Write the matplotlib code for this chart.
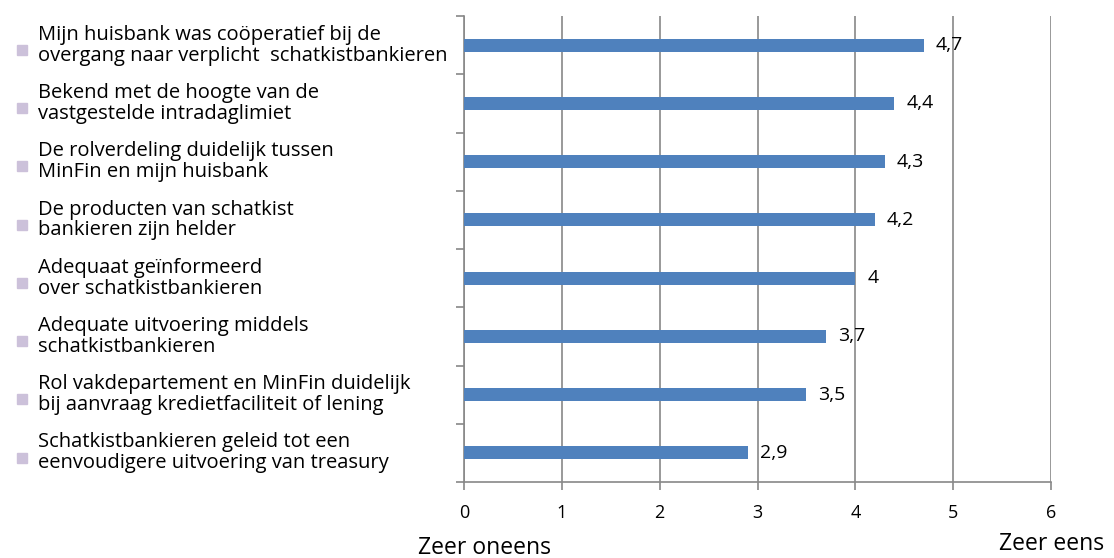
import matplotlib.pyplot as plt
import matplotlib.transforms as mtransforms
import numpy as np

plt.rcParams['font.family'] = ['Open Sans', 'DejaVu Sans']

labels = [
    'Mijn huisbank was coöperatief bij de\novergang naar verplicht  schatkistbankieren',
    'Bekend met de hoogte van de\nvastgestelde intradaglimiet',
    'De rolverdeling duidelijk tussen\nMinFin en mijn huisbank',
    'De producten van schatkist\nbankieren zijn helder',
    'Adequaat geïnformeerd\nover schatkistbankieren',
    'Adequate uitvoering middels\nschatkistbankieren',
    'Rol vakdepartement en MinFin duidelijk\nbij aanvraag kredietfaciliteit of lening',
    'Schatkistbankieren geleid tot een\neenvoudigere uitvoering van treasury',
]
values = [4.7, 4.4, 4.3, 4.2, 4.0, 3.7, 3.5, 2.9]
value_text = ['4,7', '4,4', '4,3', '4,2', '4', '3,7', '3,5', '2,9']
xticks = [0, 1, 2, 3, 4, 5, 6]

fig = plt.figure(figsize=(11.14, 5.58), dpi=100)
ax = fig.add_axes([464 / 1114, 76 / 558, 587 / 1114, 466 / 558])

y = np.arange(len(values))
ax.barh(y, values, height=0.22, color='#4F81BD', zorder=3)

ax.set_xlim(0, 6)
ax.set_ylim(len(values) - 0.5, -0.5)
ax.set_xticks(xticks)
ax.set_xticklabels([str(t) for t in xticks], fontsize=13)
ax.set_yticks(np.arange(-0.5, len(values), 1))
ax.set_yticklabels([])
ax.tick_params(axis='both', direction='out', length=6, width=1.2, color='#888888', pad=10)
ax.grid(axis='x', color='#888888', linewidth=1.2, zorder=0)
for s in ['top', 'right']:
    ax.spines[s].set_visible(False)
for s in ['left', 'bottom']:
    ax.spines[s].set_color('#888888')
    ax.spines[s].set_linewidth(1.2)

for yi, v, t in zip(y, values, value_text):
    ax.annotate(t, (v, yi), xytext=(12, 0), textcoords='offset pixels',
                va='center', ha='left', fontsize=14)

trans = mtransforms.blended_transform_factory(fig.transFigure, ax.transData)
for yi, lab in zip(y, labels):
    fig.text(38 / 1114, yi, lab, transform=trans, va='center', ha='left',
             fontsize=14.5, linespacing=1.05)
    ax.plot([22 / 1114], [yi + 0.08], marker='s', markersize=7, color='#CCC1DA',
            transform=trans, clip_on=False, linestyle='none')

fig.text(485 / 1114, 10 / 558, 'Zeer oneens', ha='center', va='center', fontsize=16.5)
fig.text(1052 / 1114, 14 / 558, 'Zeer eens', ha='center', va='center', fontsize=16.5)

fig.savefig('out.png', dpi=100)
